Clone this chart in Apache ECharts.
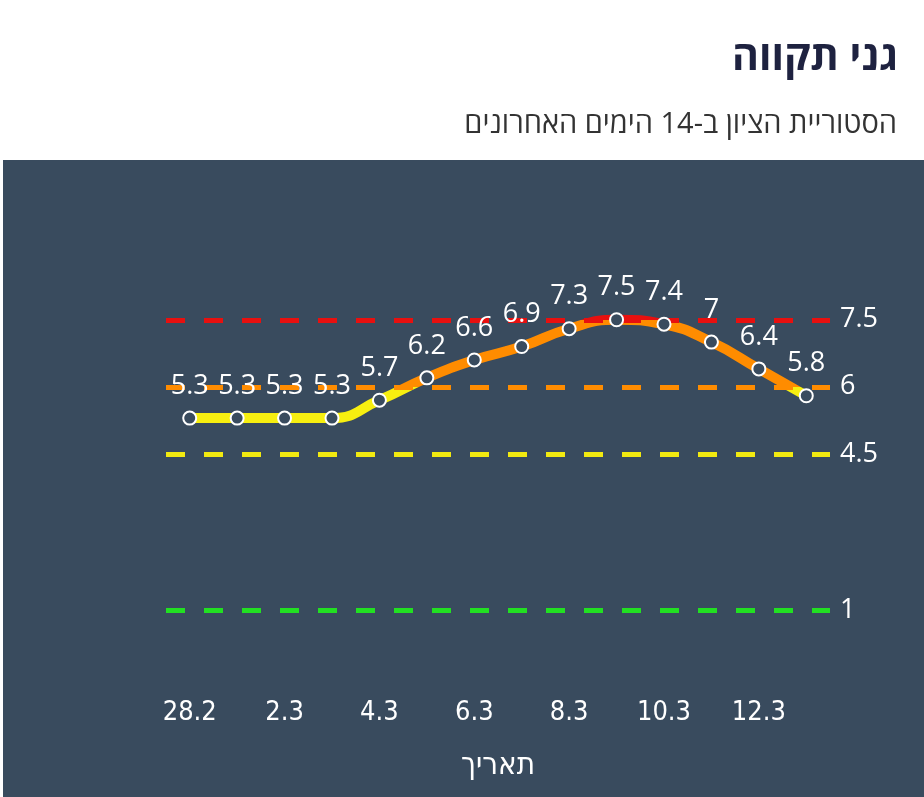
<!DOCTYPE html>
<html>
<head>
<meta charset="utf-8">
<script src="https://cdn.jsdelivr.net/npm/echarts@6/dist/echarts.min.js"></script>
<style>
    html, body { margin: 0; padding: 0; background: #fff; }
    #chart { width: 924px; height: 797px; }
</style>
</head>
<body>
<div id="chart"></div>
<script>
// נתונים
const days = ['28.2', '1.3', '2.3', '3.3', '4.3', '5.3', '6.3', '7.3', '8.3', '9.3', '10.3', '11.3', '12.3', '13.3']
const scores = [5.3, 5.3, 5.3, 5.3, 5.7, 6.2, 6.6, 6.9, 7.3, 7.5, 7.4, 7, 6.4, 5.8]
const thresholds = [7.5, 6, 4.5, 1]
const thresholdColors = ['#e8100f', '#ff8c00', '#f2ea10', '#22e022']

const panel = '#394b5e'
const chart = echarts.init(document.getElementById('chart'))

const option = {
    backgroundColor: '#fff',
    title: [
        {
            text: 'גני תקווה',
            right: 21,
            top: 33,
            textStyle: { fontFamily: 'Open Sans', fontSize: 41, fontWeight: 'bold', color: '#1e2240' }
        },
        {
            text: 'הסטוריית הציון ב-14 הימים האחרונים',
            right: 22,
            top: 105,
            textStyle: { fontFamily: 'Open Sans', fontSize: 29, fontWeight: 'normal', color: '#333' }
        }
    ],
    graphic: [
        {
            type: 'rect',
            z: -10,
            shape: { x: 3, y: 160, width: 921, height: 637 },
            style: { fill: panel }
        }
    ],
    grid: { left: 166, right: 94, top: 208, bottom: 142 },
    xAxis: {
        type: 'category',
        data: days,
        boundaryGap: true,
        axisLine: { show: false },
        axisTick: { show: false },
        axisLabel: {
            interval: 1,
            margin: 44,
            color: '#fff',
            fontSize: 27,
            fontFamily: 'DejaVu Sans Condensed'
        },
        name: 'תאריך',
        nameLocation: 'middle',
        nameGap: 95,
        nameTextStyle: {
            color: '#fff',
            fontSize: 31,
            fontFamily: 'DejaVu Sans Condensed'
        }
    },
    yAxis: { type: 'value', min: 0, max: 10, show: false },
    visualMap: {
        show: false,
        type: 'piecewise',
        seriesIndex: 0,
        dimension: 1,
        pieces: [
            { lt: 6, color: '#f7ef10' },
            { gte: 6, lt: 7.5, color: '#ff8c00' },
            { gte: 7.5, color: '#e8100f' }
        ]
    },
    series: [
        {
            type: 'line',
            data: scores,
            smooth: true,
            showSymbol: false,
            lineStyle: { width: 10 },
            z: 3,
            markLine: {
                silent: true,
                symbol: 'none',
                lineStyle: { type: [19, 19], width: 5 },
                label: {
                    position: 'end',
                    distance: 10,
                    color: '#fff',
                    fontSize: 27,
                    fontFamily: 'Open Sans'
                },
                data: thresholds.map((v, i) => ({
                    yAxis: v,
                    lineStyle: { color: thresholdColors[i] },
                    label: { formatter: String(v) }
                }))
            }
        },
        {
            type: 'line',
            data: scores,
            smooth: true,
            symbol: 'circle',
            symbolSize: 13,
            showAllSymbol: true,
            lineStyle: { width: 0, opacity: 0 },
            itemStyle: { color: panel, borderColor: '#fff', borderWidth: 2 },
            label: {
                show: true,
                position: 'top',
                distance: 11,
                color: '#fff',
                fontSize: 27,
                fontFamily: 'Open Sans'
            },
            z: 5
        }
    ]
}

chart.setOption(option)
</script>
</body>
</html>
